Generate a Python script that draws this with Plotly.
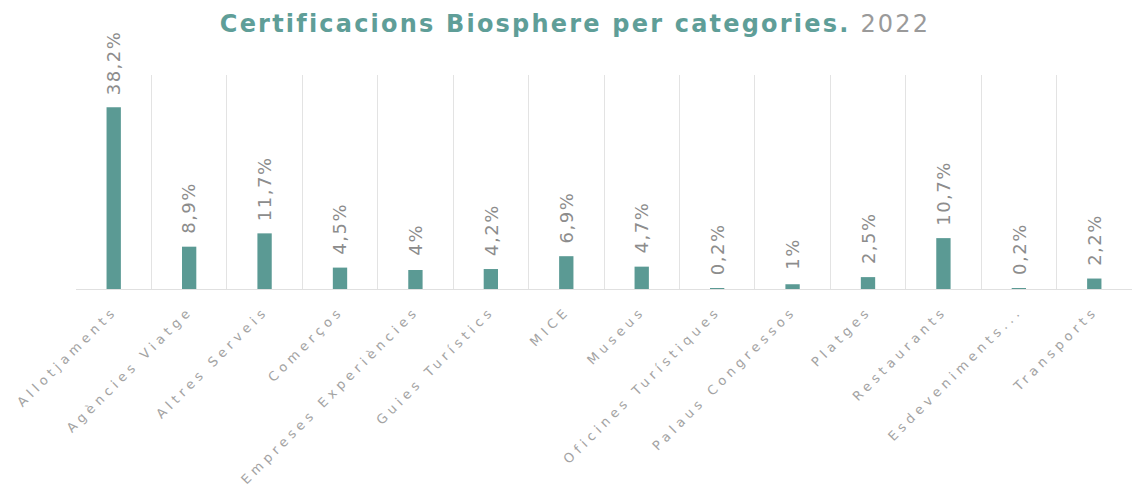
import plotly.graph_objects as go

categories = ["Allotjaments", "Agències Viatge", "Altres Serveis", "Comerços",
              "Empreses Experiències", "Guies Turístics", "MICE", "Museus",
              "Oficines Turístiques", "Palaus Congressos", "Platges", "Restaurants",
              "Esdeveniments...", "Transports"]
values = [38.2, 8.9, 11.7, 4.5, 4.0, 4.2, 6.9, 4.7, 0.2, 1.0, 2.5, 10.7, 0.2, 2.2]
labels = [f"{v:g}".replace(".", ",") + "%" for v in values]

teal = "#5b9a94"

fig = go.Figure(go.Bar(
    x=categories, y=values,
    marker=dict(color=teal, line=dict(width=0)),
    width=0.19, cliponaxis=False,
))

for c, v, t in zip(categories, values, labels):
    fig.add_annotation(
        x=c, y=v, text=t, textangle=-90, showarrow=False,
        yanchor="bottom", xanchor="center", yshift=14,
        font=dict(family="DejaVu Sans", size=18, color="#8c8c8c"),
    )

fig.update_layout(
    width=1132, height=495,
    margin=dict(l=76, r=0, t=75, b=206),
    paper_bgcolor="white", plot_bgcolor="white",
    showlegend=False,
    title=dict(
        text="<b>Certificacions Biosphere per categories.</b> <span style='color:#9a9a9a'>2022</span>",
        x=0.508, xanchor="center", y=0.952, yanchor="middle",
        font=dict(family="DejaVu Sans", size=24, color="#5f9e98"),
    ),
    xaxis=dict(
        type="category", tickson="boundaries", showgrid=True,
        gridcolor="#e3e3e3", gridwidth=1,
        showline=True, linecolor="#e0e0e0", linewidth=1,
        ticks="", tickangle=-45,
        tickfont=dict(family="DejaVu Sans", size=13, color="#a3a3a3"),
        ticklabelstandoff=8,
    ),
    yaxis=dict(range=[0, 45], showgrid=False, zeroline=False,
               showticklabels=False, showline=False),
)

post = """
var s=document.createElement('style');
s.innerHTML='body{margin:0;} .xtick text{letter-spacing:4.5px;} .gtitle{letter-spacing:2.2px;} .annotation-text{letter-spacing:1.5px;}';
document.head.appendChild(s);
"""

fig.write_html("out.html", post_script=post, config={"displayModeBar": False})
